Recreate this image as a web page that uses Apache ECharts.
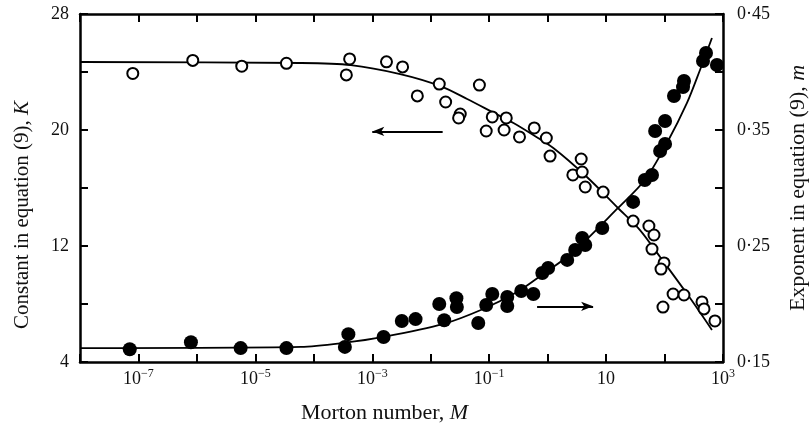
<!DOCTYPE html>
<html><head><meta charset="utf-8">
<script src="https://cdn.jsdelivr.net/npm/echarts@6/dist/echarts.min.js"></script>
<style>html,body{margin:0;padding:0;background:#fff}#c{width:811px;height:429px}</style>
</head><body><div id="c"></div>
<script>
// Open circles: constant K vs Morton number M
var kM = [8.0e-8, 8.5e-7, 5.85e-6, 3.4e-5, 3.6e-4, 4.1e-4, 1.75e-3, 3.3e-3, 5.9e-3, 1.4e-2, 1.8e-2, 3.2e-2, 3.0e-2, 6.8e-2, 0.113, 0.196, 0.089, 0.18, 0.33, 0.59, 0.95, 1.1, 3.75, 2.7, 3.9, 4.4, 8.9, 29, 54, 66, 61, 98, 87, 94, 140, 215, 437, 473, 728];
var kVal = [23.9, 24.8, 24.4, 24.6, 23.8, 24.9, 24.7, 24.35, 22.35, 23.17, 21.93, 21.1, 20.83, 23.1, 20.9, 20.83, 19.93, 20.0, 19.52, 20.14, 19.45, 18.2, 18.0, 16.9, 17.1, 16.07, 15.72, 13.72, 13.38, 12.76, 11.79, 10.83, 10.41, 7.79, 8.69, 8.62, 8.14, 7.66, 6.83];
// Filled circles: exponent m vs Morton number M
var mM = [7.1e-8, 7.9e-7, 5.6e-6, 3.4e-5, 3.9e-4, 3.4e-4, 1.56e-3, 3.2e-3, 5.5e-3, 1.4e-2, 1.7e-2, 2.75e-2, 2.8e-2, 6.5e-2, 0.089, 0.113, 0.204, 0.204, 0.354, 0.57, 0.81, 1.02, 2.16, 2.96, 3.9, 4.4, 8.6, 29, 46, 61, 84, 102, 69, 102, 145, 207, 215, 455, 512, 788];
var mVal = [0.161, 0.167, 0.162, 0.162, 0.174, 0.163, 0.1716, 0.1853, 0.187, 0.200, 0.186, 0.205, 0.1974, 0.1836, 0.1991, 0.2086, 0.206, 0.1983, 0.2112, 0.2086, 0.2267, 0.231, 0.238, 0.2466, 0.2569, 0.2509, 0.2655, 0.288, 0.3069, 0.3112, 0.3319, 0.338, 0.3491, 0.3578, 0.3793, 0.387, 0.3922, 0.4095, 0.4164, 0.406];
// Fitted curves
var kFitM = [1e-8, 6e-5, 4.3e-4, 3.0e-3, 1.47e-2, 4.2e-2, 0.113, 0.26, 0.50, 1.25, 4.7, 16, 38, 84, 273, 647];
var kFit = [24.69, 24.62, 24.48, 23.86, 23.03, 22.14, 21.24, 20.48, 19.79, 18.76, 16.76, 14.62, 13.1, 11.24, 8.41, 6.21];
var mFitM = [1e-8, 6e-5, 3.2e-4, 1.56e-3, 1.65e-2, 7.9e-2, 0.30, 0.75, 2.74, 16, 46, 110, 242, 404, 647];
var mFit = [0.162, 0.163, 0.1664, 0.1716, 0.1828, 0.1957, 0.2103, 0.2241, 0.2448, 0.2828, 0.3069, 0.3388, 0.3733, 0.4017, 0.4293];
// Arrows: [fromM, toM, value]
var kArrow = [1.6e-2, 1.0e-3, 19.9];
var mArrow = [0.66, 6.0, 0.198];
// Tick labels
var xLabelExps = [-7, -5, -3, -1, 1, 3];
var kLabels = [28, 20, 12, 4];
var mLabels = ['0·45', '0·35', '0·25', '0·15'];

function zip(a, b) { return a.map(function (v, i) { return [v, b[i]]; }); }
var FONT = 'Liberation Serif';
var TICK = 18;
var chart = echarts.init(document.getElementById('c'));
var axisLine = { show: true, lineStyle: { color: '#000', width: 2.5 } };
var axisTick = { show: true, inside: true, length: 8, lineStyle: { color: '#000', width: 2 } };
function titleStyle(size, pad) {
  return { fontFamily: FONT, fontSize: size, color: '#111', padding: pad,
    rich: { i: { fontFamily: FONT, fontStyle: 'italic', fontSize: size, color: '#111' } } };
}
chart.setOption({
  animation: false,
  backgroundColor: '#fff',
  grid: { left: 80, right: 88, top: 14, bottom: 67, containLabel: false, outerBoundsMode: 'none' },
  xAxis: [{
    type: 'log', logBase: 10, min: 1e-8, max: 1000, interval: 1,
    position: 'bottom',
    axisLine: axisLine, axisTick: axisTick, splitLine: { show: false }, minorTick: { show: false },
    name: 'Morton number, {i|M}', nameLocation: 'middle', nameGap: 40,
    nameTextStyle: titleStyle(22, [0, 34, 0, 0]),
    axisLabel: {
      margin: 6, fontFamily: FONT, fontSize: TICK, color: '#111',
      formatter: function (v) {
        var e = Math.round(Math.log10(v));
        if (xLabelExps.indexOf(e) < 0) return '';
        if (e === 1) return '{b|10}';
        return '{b|10}{s|' + (e < 0 ? '\u2212' + (-e) : e) + '}';
      },
      rich: {
        b: { fontFamily: FONT, fontSize: TICK, color: '#111', lineHeight: 22 },
        s: { fontFamily: FONT, fontSize: 12, color: '#111', verticalAlign: 'top', lineHeight: 22, padding: [0, 0, 7, 0] }
      }
    }
  }, {
    type: 'log', logBase: 10, min: 1e-8, max: 1000, interval: 1,
    position: 'top',
    axisLine: axisLine, axisTick: axisTick, axisLabel: { show: false }, splitLine: { show: false }
  }],
  yAxis: [{
    type: 'value', min: 4, max: 28, interval: 4, position: 'left',
    axisLine: axisLine, axisTick: axisTick, splitLine: { show: false },
    axisLabel: {
      margin: 11, fontFamily: FONT, fontSize: TICK, color: '#111',
      formatter: function (v) { return kLabels.indexOf(Math.round(v)) >= 0 ? String(Math.round(v)) : ''; }
    },
    name: 'Constant in equation (9), {i|K}', nameLocation: 'middle', nameGap: 47, nameRotate: 90,
    nameTextStyle: titleStyle(21, [0, 54, 0, 0])
  }, {
    type: 'value', min: 0.15, max: 0.45, interval: 0.05, position: 'right',
    axisLine: axisLine, axisTick: axisTick, splitLine: { show: false },
    axisLabel: {
      margin: 14, fontFamily: FONT, fontSize: TICK, color: '#111',
      formatter: function (v) {
        var s = '0·' + String(Math.round(v * 100));
        return mLabels.indexOf(s) >= 0 ? s : '';
      }
    },
    name: 'Exponent in equation (9), {i|m}', nameLocation: 'middle', nameGap: 64, nameRotate: 90,
    nameTextStyle: titleStyle(22, 0)
  }],
  series: [{
    type: 'line', xAxisIndex: 0, yAxisIndex: 0, data: zip(kFitM, kFit), smooth: 0.3,
    showSymbol: false, lineStyle: { color: '#000', width: 1.8 }, z: 2,
    markLine: {
      silent: true, symbolSize: [7, 12], label: { show: false },
      lineStyle: { color: '#000', width: 2, type: 'solid' },
      data: [[{ coord: [kArrow[0], kArrow[2]], symbol: 'none' }, { coord: [kArrow[1], kArrow[2]], symbol: 'arrow' }]]
    }
  }, {
    type: 'line', xAxisIndex: 0, yAxisIndex: 1, data: zip(mFitM, mFit), smooth: 0.3,
    showSymbol: false, lineStyle: { color: '#000', width: 1.8 }, z: 2,
    markLine: {
      silent: true, symbolSize: [7, 12], label: { show: false },
      lineStyle: { color: '#000', width: 2, type: 'solid' },
      data: [[{ coord: [mArrow[0], mArrow[2]], symbol: 'none' }, { coord: [mArrow[1], mArrow[2]], symbol: 'arrow' }]]
    }
  }, {
    type: 'scatter', xAxisIndex: 0, yAxisIndex: 0, data: zip(kM, kVal), symbol: 'circle', symbolSize: 11,
    itemStyle: { color: '#fff', borderColor: '#000', borderWidth: 2, opacity: 1 }, z: 3
  }, {
    type: 'scatter', xAxisIndex: 0, yAxisIndex: 1, data: zip(mM, mVal), symbol: 'circle', symbolSize: 14,
    itemStyle: { color: '#000', opacity: 1 }, z: 4
  }]
});
</script></body></html>
